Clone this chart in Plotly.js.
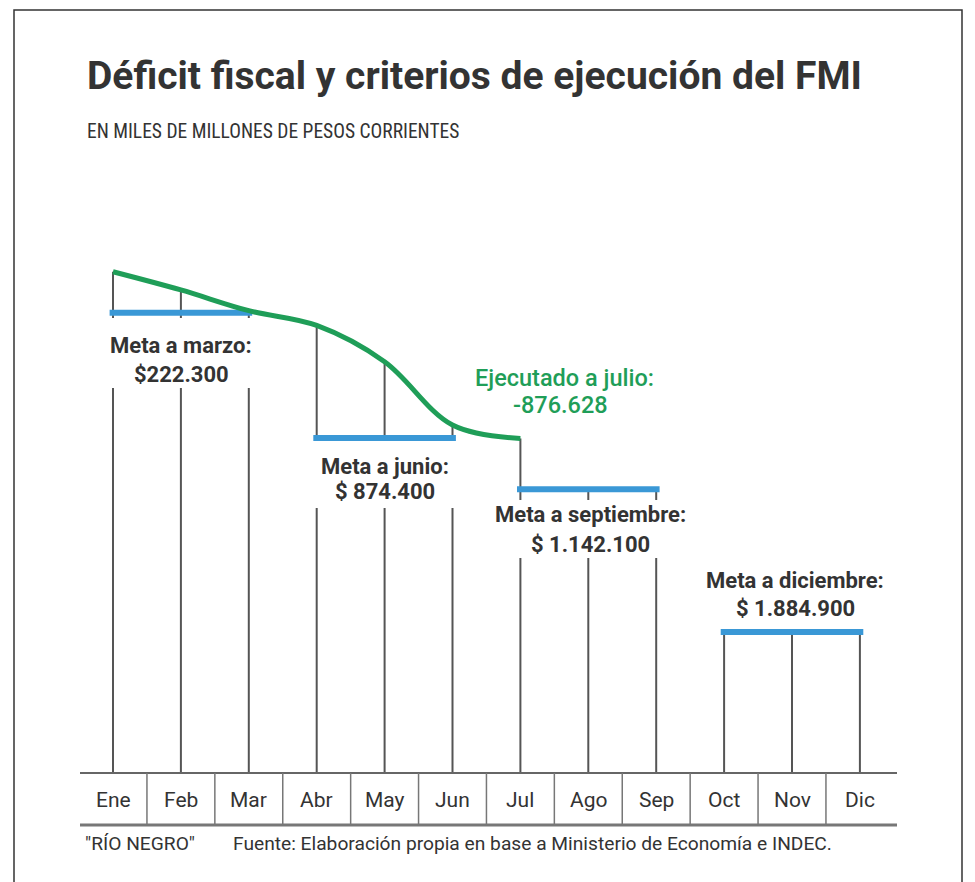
<!DOCTYPE html>
<html>
<head>
<meta charset="utf-8">
<script src="https://cdn.plot.ly/plotly-3.0.1.min.js"></script>
<style>
  html, body { margin: 0; padding: 0; background: #ffffff; }
  #chart { width: 975px; height: 882px; }
</style>
</head>
<body>
<div id="chart"></div>
<script>
// ---- Data (miles de millones de pesos, déficit acumulado) ----
const meses = ['Ene','Feb','Mar','Abr','May','Jun','Jul','Ago','Sep','Oct','Nov','Dic'];
const ejecutado = [8, 103, 211, 288, 477, 807, 876.628];   // Ene–Jul
const metas = [222.3, 874.4, 1142.1, 1884.9];                // metas FMI trimestrales
const metaDesde = [0, 3, 6, 9];
const metaHasta = [2, 5, 8, 11];
const metaEtiquetas = ['Meta a marzo:', 'Meta a junio:', 'Meta a septiembre:', 'Meta a diciembre:'];
const metaValores = ['$222.300', '$ 874.400', '$ 1.142.100', '$ 1.884.900'];
const ejecutadoEtiqueta = 'Ejecutado a julio:';
const ejecutadoValor = '-876.628';

const titulo = 'Déficit fiscal y criterios de ejecución del FMI';
const subtitulo = 'EN MILES DE MILLONES DE PESOS CORRIENTES';
const firma = '"RÍO NEGRO"';
const fuente = 'Fuente: Elaboración propia en base a Ministerio de Economía e INDEC.';

// ---- Layout geometry ----
const W = 975, H = 882;
const X0 = 113, DX = 67.9;          // pixel of Ene, month spacing
const Y0 = 270.2, KY = 0.1919;      // pixel of 0, pixels per unit
const baseY = 773, axisBottom = 825;
const vAt = py => (py - Y0) / KY;   // pixel -> value (layout only)
const base = vAt(baseY);
const px = x => x / W;
const py = y => 1 - y / H;

const GREEN = '#1f9e58', BLUE = '#3a98d6', GRAY = '#555555', TXT = '#333333';
const FONT = 'Roboto, "Open Sans", sans-serif';
const NARROW = '"Liberation Sans Narrow", "Roboto Condensed", Roboto, sans-serif';

const quarterOf = i => Math.floor(i / 3);
const topVal = meses.map((m, i) => i < ejecutado.length ? ejecutado[i] : metas[quarterOf(i)]);

// vertical month lines
const vx = [], vy = [];
meses.forEach((m, i) => { vx.push(i, i, null); vy.push(topVal[i], base, null); });

// target segments
const bx = [], by = [];
metas.forEach((v, k) => { bx.push(metaDesde[k] - 0.05, metaHasta[k] + 0.05, null); by.push(v, v, null); });

const traces = [
  { x: vx, y: vy, mode: 'lines', line: { color: GRAY, width: 2 }, hoverinfo: 'skip' },
  { x: bx, y: by, mode: 'lines', line: { color: BLUE, width: 6 }, hoverinfo: 'skip' },
  { x: meses.slice(0, ejecutado.length).map((m, i) => i), y: ejecutado, mode: 'lines',
    line: { color: GREEN, width: 5, shape: 'spline', smoothing: 1 }, hoverinfo: 'skip' }
];

const shapes = [];
shapes.push({ type: 'rect', xref: 'paper', yref: 'paper', x0: px(14), x1: px(962), y0: py(900), y1: py(10),
  line: { color: '#333', width: 1.5 }, fillcolor: 'rgba(0,0,0,0)', layer: 'below' });
shapes.push({ type: 'line', xref: 'paper', yref: 'paper', x0: px(80), x1: px(897), y0: py(baseY), y1: py(baseY),
  line: { color: '#666', width: 2 } });
shapes.push({ type: 'line', xref: 'paper', yref: 'paper', x0: px(80), x1: px(897), y0: py(axisBottom), y1: py(axisBottom),
  line: { color: '#777', width: 3 } });
for (let i = 0; i < meses.length - 1; i++) {
  shapes.push({ type: 'line', xref: 'x', yref: 'paper', x0: i + 0.5, x1: i + 0.5, y0: py(baseY), y1: py(axisBottom),
    line: { color: '#777', width: 1.5 } });
}
const gaps = [[95, 267, 318, 388], [295, 475, 441, 508], [480, 700, 500, 558]];
gaps.forEach(g => shapes.push({ type: 'rect', xref: 'paper', yref: 'paper', x0: px(g[0]), x1: px(g[1]),
  y0: py(g[3]), y1: py(g[2]), fillcolor: '#ffffff', line: { width: 0 }, layer: 'above' }));

const ann = [];
const txt = (text, x, y, font, opts = {}) => ann.push(Object.assign({
  text, xref: 'paper', yref: 'paper', x: px(x), y: py(y), xanchor: 'center', yanchor: 'middle',
  showarrow: false, font
}, opts));

txt(titulo, 85, 76, { family: FONT, size: 39, color: TXT, weight: 700 }, { xanchor: 'left' });
txt(subtitulo, 85, 132, { family: NARROW, size: 19.5, color: TXT }, { xanchor: 'left' });

const labelPos = [[181, 345, 375], [385, 466, 492], [590, 514, 544], [795, 580, 608]];
const labelFont = { family: FONT, size: 22, color: TXT, weight: 700 };
metas.forEach((v, k) => {
  const p = labelPos[k];
  txt(metaEtiquetas[k], p[0], p[1], labelFont);
  txt(metaValores[k], p[0], p[2], labelFont);
});
const greenFont = { family: FONT, size: 23.5, color: GREEN, weight: 500 };
txt(ejecutadoEtiqueta, 564, 378, greenFont);
txt(ejecutadoValor, 560, 405, greenFont);

meses.forEach((m, i) => ann.push({ text: m, xref: 'x', yref: 'paper', x: i, y: py(800),
  xanchor: 'center', yanchor: 'middle', showarrow: false, font: { family: FONT, size: 21, color: TXT } }));

const footFont = { family: FONT, size: 19.2, color: TXT };
txt(firma, 83, 843, footFont, { xanchor: 'left' });
txt(fuente, 231, 843, footFont, { xanchor: 'left' });

const layout = {
  width: W, height: H, margin: { l: 0, r: 0, t: 0, b: 0 },
  paper_bgcolor: '#ffffff', plot_bgcolor: '#ffffff', showlegend: false,
  xaxis: { range: [-X0 / DX, (W - X0) / DX], visible: false, fixedrange: true },
  yaxis: { range: [vAt(H), vAt(0)], visible: false, fixedrange: true },
  shapes, annotations: ann
};

Plotly.newPlot('chart', traces, layout, { displayModeBar: false, staticPlot: true });
</script>
</body>
</html>
